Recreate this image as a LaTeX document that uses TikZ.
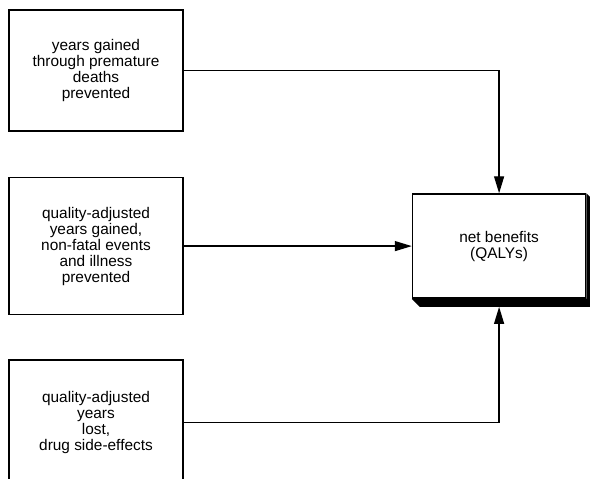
\documentclass[tikz,border=0pt]{standalone}
\usepackage{fontspec}
\setmainfont{Liberation Sans}
\usepackage{tikz}
\usetikzlibrary{positioning,arrows.meta}
\tikzset{gain node/.style={rectangle,draw,line width=1.6pt,fill=white,minimum width=174pt,minimum height=121pt,align=center,inner sep=0pt,font=\fontsize{15.4pt}{16pt}\selectfont},
         result node/.style={gain node,minimum width=173pt,minimum height=104pt},
         link/.style={draw,line width=1.3pt,-{Triangle[length=17pt,width=10pt]}}}

\begin{document}
\begin{tikzpicture}[scale=1]
            \path[use as bounding box,clip] (0,0) rectangle (590pt,-479pt);
            \node[gain node] (A) at (96pt,-70.5pt) {years gained\\through premature\\deaths\\prevented};
            \node[gain node,minimum height=137pt] (B) [below = 45pt of A] {quality-adjusted\\years gained,\\non-fatal events\\and illness\\prevented};
            \node[gain node,minimum height=125pt] (C) [below = 44pt of B] {quality-adjusted\\years\\lost,\\drug side-effects};
            \node[result node] (N) [right = 228pt of B] {net benefits\\(QALYs)};

            % shadow of the result box
            \fill (N.south west) -- ([shift={(8pt,-8pt)}]N.south west) -- ([shift={(4pt,-8pt)}]N.south east)
              -- ([shift={(4pt,-4pt)}]N.north east) -- (N.north east) -- (N.south east) -- cycle;
            \coordinate (Nshadow) at ([yshift=-8pt]N.south);

            \path[link] (A.east) -| (N.north);
            \path[link] (B.east) -- (N.west);
            \path[link] (C.east) -| (Nshadow);
        \end{tikzpicture}
\end{document}
